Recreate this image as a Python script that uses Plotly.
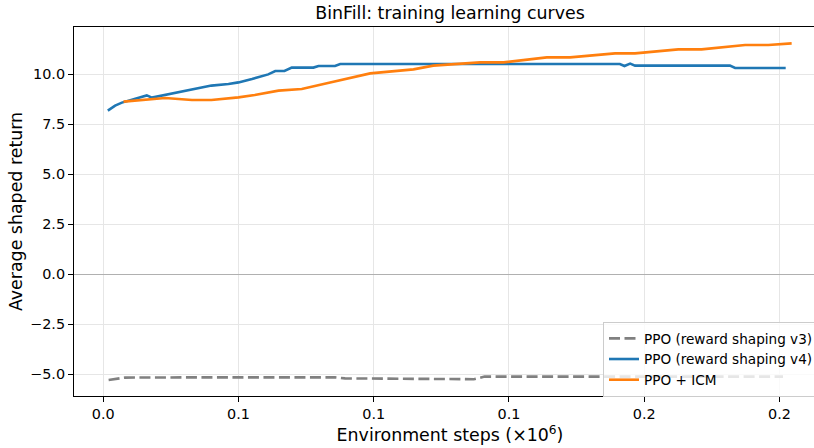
import plotly.graph_objects as go

# ---- data ----
v3_x = [0.002, 0.008, 0.030, 0.060, 0.0857, 0.0894, 0.110, 0.137, 0.141, 0.180, 0.220, 0.2513]
v3_y = [-5.30, -5.18, -5.17, -5.16, -5.17, -5.22, -5.24, -5.26, -5.13, -5.13, -5.13, -5.13]

v4_x = [0.0017, 0.0044, 0.0069, 0.0094, 0.013, 0.0161, 0.018, 0.0217, 0.0235, 0.0266,
        0.034, 0.040, 0.0463, 0.050, 0.055, 0.061, 0.0636, 0.067, 0.0697, 0.0777,
        0.0796, 0.0857, 0.0876, 0.191, 0.1927, 0.1948, 0.1966, 0.2317, 0.2336, 0.2523]
v4_y = [8.17, 8.42, 8.57, 8.67, 8.78, 8.93, 8.82, 8.92, 9.00, 9.07,
        9.28, 9.42, 9.50, 9.58, 9.75, 9.98, 10.15, 10.15, 10.32, 10.32,
        10.40, 10.40, 10.50, 10.50, 10.40, 10.52, 10.42, 10.42, 10.30, 10.30]

icm_x = [0.0075, 0.0155, 0.0229, 0.0328, 0.040, 0.050, 0.056, 0.0648, 0.0734, 0.0839,
         0.0987, 0.1147, 0.122, 0.1393, 0.148, 0.164, 0.1726, 0.1892, 0.1966, 0.2126,
         0.2212, 0.2373, 0.2459, 0.2545]
icm_y = [8.62, 8.73, 8.80, 8.70, 8.70, 8.83, 8.95, 9.17, 9.25, 9.58,
         10.03, 10.23, 10.42, 10.58, 10.58, 10.83, 10.83, 11.03, 11.03, 11.23,
         11.23, 11.45, 11.45, 11.53]

x_tick_vals = [0.0, 0.05, 0.10, 0.15, 0.20, 0.25]
x_tick_text = ["0.0", "0.1", "0.1", "0.1", "0.2", "0.2"]
y_tick_vals = [-5.0, -2.5, 0.0, 2.5, 5.0, 7.5, 10.0]

series_names = ["PPO (reward shaping v3)", "PPO (reward shaping v4)", "PPO + ICM"]

FONT = "DejaVu Sans, Arial, sans-serif"
W = 832          # page is wider than the 814 px window; right part is cropped like the reference
L, R_EDGE = 74, 826

fig = go.Figure()
fig.add_trace(go.Scatter(x=v3_x, y=v3_y, mode="lines", name=series_names[0],
                         line=dict(color="#808080", width=2.6, dash="11px,4.5px")))
fig.add_trace(go.Scatter(x=v4_x, y=v4_y, mode="lines", name=series_names[1],
                         line=dict(color="#1f77b4", width=2.6)))
fig.add_trace(go.Scatter(x=icm_x, y=icm_y, mode="lines", name=series_names[2],
                         line=dict(color="#ff7f0e", width=2.6)))

fig.update_layout(
    width=W, height=448,
    margin=dict(l=L, r=W - R_EDGE, t=27, b=52),
    paper_bgcolor="white", plot_bgcolor="white",
    font=dict(family=FONT, size=14.4, color="#000000"),
    title=dict(text="BinFill: training learning curves", x=0.5,
               xanchor="center", xref="paper",
               y=1 - 13 / 448, yanchor="middle",
               font=dict(family=FONT, size=17.4, color="#000000")),
    showlegend=True,
    legend=dict(x=(603 - L) / (R_EDGE - L), xanchor="left", y=(396 - 322) / 369, yanchor="top",
                bgcolor="rgba(255,255,255,0.8)", bordercolor="#cccccc", borderwidth=1,
                font=dict(family=FONT, size=13.6, color="#000000"),
                tracegroupgap=0, itemwidth=30),
)

fig.update_xaxes(
    range=[-0.0108, 0.2672], tickvals=x_tick_vals, ticktext=x_tick_text,
    showgrid=True, gridcolor="#e6e6e6", gridwidth=1, zeroline=False,
    showline=True, linecolor="#000000", linewidth=1.1, mirror=True,
    ticks="outside", ticklen=5, tickwidth=1.1, tickcolor="#000000",
    title=dict(text="Environment steps (×10<sup>6</sup>)", standoff=7,
               font=dict(family=FONT, size=17.4, color="#000000")),
)
fig.update_yaxes(
    range=[-6.1, 12.35], tickvals=y_tick_vals, tickformat=".1f",
    showgrid=True, gridcolor="#e6e6e6", gridwidth=1,
    zeroline=True, zerolinecolor="#b0b0b0", zerolinewidth=1.2,
    showline=True, linecolor="#000000", linewidth=1.1, mirror=False,
    ticks="outside", ticklen=5, tickwidth=1.1, tickcolor="#000000",
    title=dict(text="Average shaped return", standoff=3,
               font=dict(family=FONT, size=17.4, color="#000000")),
)

fig.write_html("out.html", config={"displayModeBar": False},
               post_script="document.body.style.margin='0';document.body.style.overflow='hidden';")
